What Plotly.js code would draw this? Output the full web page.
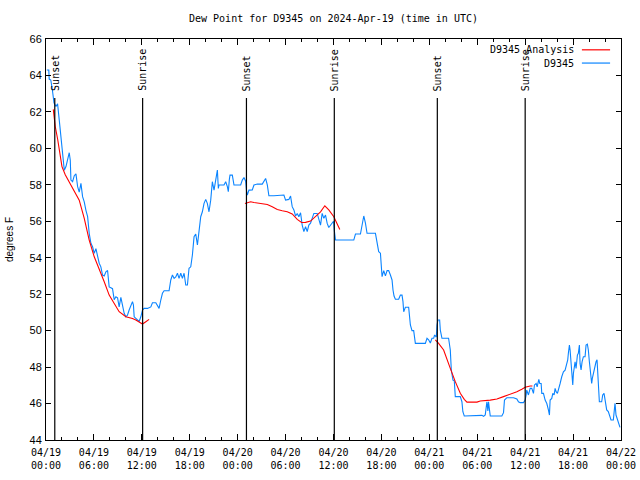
<!DOCTYPE html>
<html>
<head>
<meta charset="utf-8">
<script src="https://cdn.plot.ly/plotly-3.0.1.min.js"></script>
<style>html,body{margin:0;padding:0;background:#fff}#chart{width:640px;height:480px}</style>
</head>
<body>
<div id="chart"></div>
<script>
// ---- data (hours after 2024-04-19 00:00 UTC) ----
const startDate = "2024-04-19";
const obsHours = [0.1,0.35,0.4,0.6,0.8,1.0,1.25,1.45,1.66,1.875,2.08,2.29,2.5,2.71,2.91,3.04,3.12,3.33,3.54,3.75,3.96,4.16,4.375,4.58,4.79,5.0,5.21,5.41,5.625,5.83,6.04,6.25,6.46,6.66,6.87,7.08,7.29,7.5,7.71,7.91,8.12,8.33,8.54,8.75,8.96,9.16,9.375,9.58,9.79,10.0,10.2,10.41,10.625,10.83,10.95,11.04,11.25,11.46,11.66,11.875,12.08,12.29,12.71,13.125,13.33,13.75,13.96,14.16,14.375,14.58,14.79,15.41,15.625,15.83,16.04,16.25,16.46,16.66,16.875,17.08,17.29,17.5,17.71,17.91,18.125,18.33,18.54,18.75,18.96,19.16,19.375,19.58,19.79,20.0,20.2,20.41,20.625,20.83,21.04,21.25,21.46,21.58,21.66,22.29,22.5,22.71,22.83,22.96,23.04,23.33,23.54,24.375,24.58,24.79,25.0,25.12,25.21,25.41,25.83,26.04,26.46,27.08,27.29,27.5,27.71,27.91,28.54,29.79,30.0,30.41,30.625,30.83,31.04,31.25,31.46,31.66,31.875,32.08,32.29,32.5,32.71,32.91,33.125,33.33,33.54,33.96,34.16,34.375,34.58,34.79,35.0,35.21,35.41,35.83,36.0,36.12,36.25,38.54,38.75,39.375,39.5,39.66,39.79,40.0,40.2,41.25,41.45,41.66,41.875,42.0,42.08,42.29,42.5,42.71,42.91,43.125,43.33,43.45,43.58,43.75,44.16,44.375,44.58,44.7,44.79,45.0,45.41,45.625,45.83,46.04,46.25,47.5,47.71,47.91,48.125,48.33,48.54,48.66,48.875,48.96,49.08,49.29,49.375,49.58,50.41,50.625,50.75,50.96,51.125,51.25,51.875,52.08,52.2,52.375,54.58,54.79,55.0,55.21,55.33,55.41,55.625,57.08,57.29,57.41,57.71,58.54,58.96,59.16,59.375,59.79,60.0,60.125,60.2,60.41,60.625,60.83,61.04,61.16,61.375,61.5,61.625,61.71,61.83,62.0,62.08,62.29,62.5,62.71,62.91,63.04,63.125,63.33,63.46,63.625,63.75,63.875,64.04,64.16,64.375,64.58,64.71,64.79,65.0,65.21,65.33,65.41,65.54,65.625,65.71,65.83,65.96,66.04,66.16,66.25,66.375,66.46,66.54,66.66,66.79,66.875,67.0,67.125,67.29,67.5,67.625,67.79,67.91,68.04,68.2,68.33,68.41,68.58,68.66,68.875,69.0,69.08,69.21,69.29,69.58,69.71,69.875,70.0,70.125,70.21,70.41,70.54,70.75,71.04,71.125,71.25,71.375,71.54,71.71,71.875];
const obsDew = [64.3,64.3,63.8,63.75,63.2,62.5,62.3,62.45,61.55,60.6,59.55,58.8,59.0,59.35,59.76,59.35,58.26,58.17,58.5,58.6,57.9,57.6,58.08,57.35,57.07,56.6,56.25,55.34,54.79,54.6,54.24,54.5,54.05,53.7,53.5,53.05,53.0,53.23,53.3,52.4,52.35,52.3,51.7,51.86,51.8,51.3,51.83,51.3,50.95,50.76,50.85,51.13,51.4,51.59,51.4,50.76,50.67,50.58,50.5,50.76,51.13,51.22,51.22,51.3,51.53,51.53,51.4,51.22,51.68,52.05,52.19,52.19,52.78,53.05,52.87,52.95,53.15,52.87,53.15,52.87,53.15,52.5,52.5,53.42,53.5,54.15,55.15,55.3,54.7,55.52,56.25,56.52,56.98,57.2,56.98,56.52,57.16,58.17,57.71,58.26,58.81,57.8,57.99,57.99,58.17,57.9,57.62,58.3,58.53,58.53,57.99,57.99,58.26,58.4,58.2,57.62,57.44,57.71,57.72,57.99,58.04,58.04,58.22,58.35,58.0,57.4,57.4,57.44,57.16,57.2,57.38,56.8,56.62,56.29,56.43,56.25,56.47,55.79,55.43,55.7,55.43,55.79,55.9,56.16,56.43,56.43,56.16,55.79,56.43,56.16,56.34,55.88,55.66,55.9,56.0,55.43,54.97,54.97,55.3,55.3,55.61,55.98,56.29,55.9,55.34,55.34,54.79,54.33,54.25,53.69,52.96,53.29,53.0,53.29,53.29,53.05,52.78,52.23,51.9,51.72,51.72,51.95,51.95,51.59,51.04,51.28,51.28,50.31,50.0,50.0,49.3,49.3,49.58,49.5,49.32,49.58,49.58,49.76,49.65,50.31,50.58,50.58,50.03,49.58,49.58,48.94,47.84,47.29,47.25,46.38,46.38,46.1,45.55,45.32,45.35,45.3,45.38,46.1,45.6,46.1,45.32,45.32,45.5,46.19,46.32,46.32,46.25,46.1,46.05,46.05,46.19,46.47,46.74,46.47,46.83,46.83,46.56,47.02,47.1,46.92,47.1,47.33,47.1,47.1,46.56,46.56,46.19,46.0,45.65,45.37,46.19,46.28,46.56,46.47,46.83,46.65,46.56,46.83,47.1,47.47,47.65,47.74,47.83,48.2,48.4,48.76,49.21,48.94,48.48,47.47,47.02,47.65,48.02,48.29,47.93,48.38,48.66,48.76,49.21,48.2,47.84,48.29,48.57,48.57,49.21,49.26,48.94,48.29,47.57,47.1,47.38,47.74,47.93,48.29,48.4,47.66,46.65,46.1,46.1,46.47,46.56,46.19,45.92,45.65,45.56,45.37,45.1,45.1,45.65,46.01,45.37,45.1,44.82,44.69];

const anaHours1 = [0.91,1.16,1.46,1.75,2.0,2.41,2.91,3.54,4.16,4.79,5.41,6.04,6.66,7.29,7.91,8.54,9.16,10.0,10.83,11.25,11.875,12.08,12.5,12.91];
const anaDew1   = [62.14,61.2,60.5,59.6,59.0,58.55,58.17,57.71,57.16,56.16,54.97,54.05,53.42,52.68,51.95,51.5,51.04,50.76,50.67,50.58,50.4,50.36,50.49,50.62];
const anaHours2 = [24.91,25.625,26.04,26.66,27.71,28.33,28.96,29.58,30.21,30.83,31.46,32.0,32.5,33.125,33.75,34.375,34.91,35.41,36.04,36.46,36.79];
const anaDew2   = [56.98,57.07,57.03,56.98,56.92,56.8,56.65,56.58,56.52,56.4,56.1,55.93,55.94,56.01,56.25,56.52,56.85,56.62,56.25,55.88,55.55];
const anaHours3 = [48.75,49.16,49.79,50.21,50.625,51.25,51.875,52.375,52.71,53.96,54.375,55.625,56.46,57.29,58.125,58.96,59.58,60.0,60.625,60.91];
const anaDew3   = [49.49,49.3,48.94,48.48,47.93,47.2,46.56,46.23,46.08,46.08,46.14,46.19,46.25,46.38,46.5,46.65,46.78,46.89,46.96,46.96];

const sunHours  = [1.1, 12.1, 25.1, 36.1, 49.0, 60.0];
const sunLabels = ["Sunset","Sunrise","Sunset","Sunrise","Sunset","Sunrise"];

const stationName = "D9345";
const chartTitle = "Dew Point for D9345 on 2024-Apr-19 (time in UTC)";
const yLabel = "degrees F";

// ---- helpers ----
const baseMs = Date.parse(startDate + "T00:00:00Z");
function t(h){ return new Date(baseMs + h*3600000).toISOString().replace("T"," ").replace("Z",""); }

const anaX = anaHours1.map(t).concat([null], anaHours2.map(t), [null], anaHours3.map(t));
const anaY = anaDew1.concat([null], anaDew2, [null], anaDew3);

const RED = "#ff0000", BLUE = "#0a84ff";
const mono = "DejaVu Sans Mono, monospace";
const sans = "Liberation Sans, Arial, sans-serif";

const traces = [
  {x: obsHours.map(t), y: obsDew, type:"scatter", mode:"lines", name: stationName,
   line:{color:BLUE, width:1.1}, showlegend:false, hoverinfo:"skip"},
  {x: anaX, y: anaY, type:"scatter", mode:"lines", name: stationName + " Analysis",
   line:{color:RED, width:1.1}, connectgaps:false, showlegend:false, hoverinfo:"skip"}
];

const shapes = sunHours.map(h => ({type:"line", xref:"x", yref:"paper", x0:t(h), x1:t(h), y0:0, y1:0.853,
  line:{color:"#000", width:1.2}}));
const annotations = sunHours.map((h,i) => ({xref:"x", yref:"paper", x:t(h), y:0.865, text:sunLabels[i],
  textangle:-90, showarrow:false, xanchor:"center", yanchor:"bottom", font:{family:mono, size:10, color:"#000"}}));

// custom gnuplot-style key (text left, sample right)
const legendRows = [{label: stationName + " Analysis", color: RED, y: 0.973},
                    {label: stationName, color: BLUE, y: 0.940}];
legendRows.forEach(r => {
  annotations.push({xref:"paper", yref:"paper", x:0.921, y:r.y, text:r.label, showarrow:false,
    xanchor:"right", yanchor:"middle", font:{family:mono, size:10, color:"#000"}});
  shapes.push({type:"line", xref:"paper", yref:"paper", x0:0.932, x1:0.981, y0:r.y, y1:r.y,
    line:{color:r.color, width:1.2}});
});

const layout = {
  width:640, height:480,
  margin:{l:46, r:19, t:39, b:40},
  paper_bgcolor:"#fff", plot_bgcolor:"#fff",
  title:{text: chartTitle, font:{family:mono, size:10, color:"#000"}, x:0.5, xref:"paper", xanchor:"center", y:0.962, yanchor:"middle"},
  showlegend:false,
  xaxis:{type:"date", range:[t(0), t(72)], tick0:t(0), dtick:6*3600000, tickformat:"%m/%d<br>%H:%M",
    ticks:"inside", ticklen:6, tickcolor:"#000", tickwidth:1, showline:true, linecolor:"#000", linewidth:1,
    mirror:"allticks", showgrid:false, zeroline:false, tickfont:{family:mono, size:10, color:"#000"},
    ticklabelstandoff:3,
    minor:{dtick:2*3600000, ticks:"inside", ticklen:3, tickcolor:"#000", showgrid:false}},
  yaxis:{range:[44,66], dtick:2, tick0:44, ticks:"inside", ticklen:5, tickcolor:"#000", showline:true,
    linecolor:"#000", linewidth:1, mirror:"allticks", showgrid:false, zeroline:false,
    tickfont:{family:sans, size:11, color:"#000"}, ticklabelstandoff:1,
    title:{text:yLabel, font:{family:sans, size:10, color:"#000"}, standoff:14}},
  shapes: shapes,
  annotations: annotations
};

Plotly.newPlot("chart", traces, layout, {staticPlot:true, displayModeBar:false});
</script>
</body>
</html>
